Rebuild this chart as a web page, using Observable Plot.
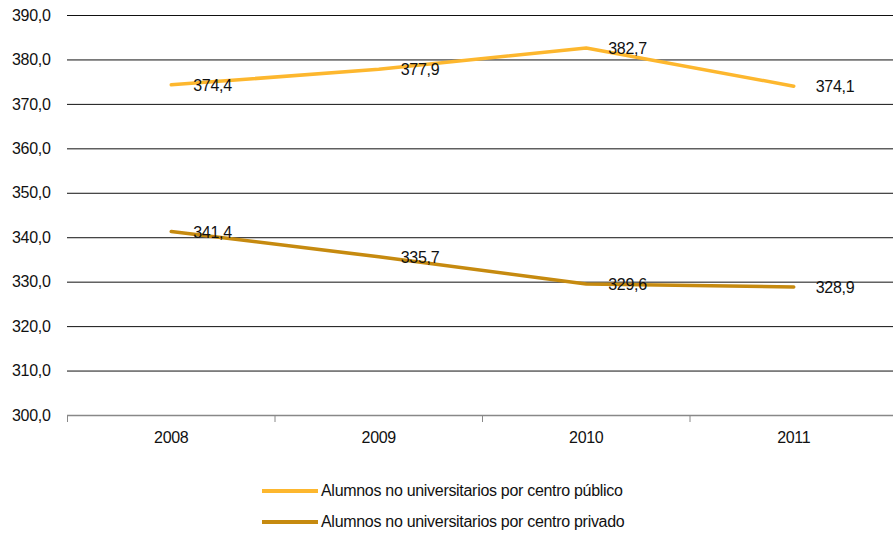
<!DOCTYPE html>
<html><head><meta charset="utf-8">
<script src="https://cdn.jsdelivr.net/npm/d3@7"></script>
<script src="https://cdn.jsdelivr.net/npm/@observablehq/plot@0.6"></script>
<style>
body{margin:0;background:#fff;font-family:"Liberation Sans",Arial,sans-serif;}
#legend{position:absolute;left:262px;top:475px;font-size:16px;letter-spacing:-0.3px;color:#111;}
.item{display:flex;align-items:center;height:31px;}
.sw{width:56px;height:4px;margin-right:3px;}
</style></head><body>
<div id="chart"></div>
<div id="legend"></div>
<script>
const years = [2008, 2009, 2010, 2011];
const publico = [374.4, 377.9, 382.7, 374.1];
const privado = [341.4, 335.7, 329.6, 328.9];
const seriesNames = ["Alumnos no universitarios por centro público", "Alumnos no universitarios por centro privado"];
const seriesColors = ["#FDB72E", "#C68A0F"];
const yTicks = [300, 310, 320, 330, 340, 350, 360, 370, 380, 390];

const data = [];
years.forEach((y, i) => data.push({year: y, value: publico[i], s: seriesNames[0]}));
years.forEach((y, i) => data.push({year: y, value: privado[i], s: seriesNames[1]}));
const fmt = v => v.toFixed(1).replace(".", ",");
const bounds = years.map(y => y - 0.5).concat([years[years.length - 1] + 0.5]);

const chart = Plot.plot({
  width: 893, height: 460,
  marginLeft: 67, marginRight: 0, marginTop: 15, marginBottom: 45,
  style: {fontFamily: '"Liberation Sans",Arial,sans-serif', fontSize: "16px", color: "#111", letterSpacing: "-0.3px"},
  x: {domain: [2007.5, 2011.5], range: [67, 897]},
  y: {domain: [300, 390]},
  color: {domain: seriesNames, range: seriesColors},
  marks: [
    Plot.ruleY(yTicks.filter(t => t > 300), {stroke: "#111", strokeWidth: 1}),
    Plot.ruleY([300], {stroke: "#888", strokeWidth: 1.5}),
    Plot.axisY({ticks: yTicks, tickSize: 0, tickPadding: 17, tickFormat: fmt, label: null, fontSize: 16}),
    Plot.axisX({ticks: bounds, tickSize: 7, tickFormat: () => "", label: null, stroke: "#888"}),
    Plot.axisX({ticks: years, tickSize: 0, tickPadding: 16, tickFormat: d => String(d), label: null, fontSize: 16}),
    Plot.line(data, {x: "year", y: "value", z: "s", stroke: "s", strokeWidth: 3.5}),
    Plot.text(data, {x: "year", y: "value", text: d => fmt(d.value), textAnchor: "start", dx: 22, dy: 1, fill: "#111", fontSize: 16})
  ]
});
document.getElementById("chart").appendChild(chart);
const lg = document.getElementById("legend");
seriesNames.forEach((n, i) => {
  const d = document.createElement("div"); d.className = "item";
  d.innerHTML = `<span class="sw" style="background:${seriesColors[i]}"></span><span>${n}</span>`;
  lg.appendChild(d);
});
</script></body></html>
